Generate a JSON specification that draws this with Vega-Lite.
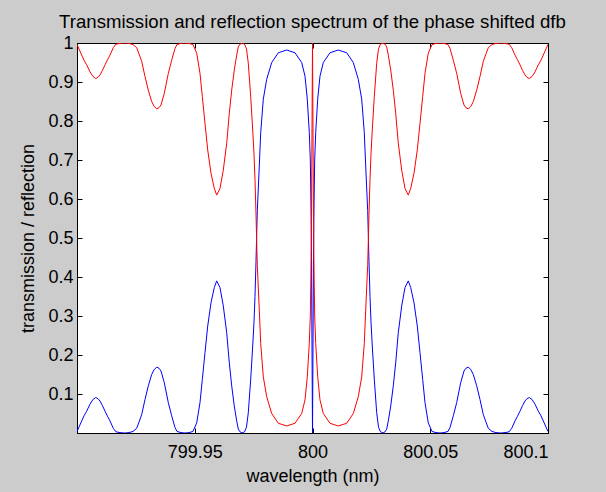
{
  "$schema": "https://vega.github.io/schema/vega-lite/v6.json",
  "width": 471,
  "height": 390,
  "autosize": "none",
  "padding": {"left": 77, "top": 43, "right": 58, "bottom": 59},
  "background": "#cccccc",
  "title": {
    "text": "Transmission and reflection spectrum of the phase shifted dfb",
    "font": "Liberation Sans",
    "fontSize": 18.6,
    "fontWeight": "normal",
    "color": "black",
    "anchor": "middle",
    "offset": 2
  },
  "config": {
    "font": "Liberation Sans",
    "view": {"fill": "white", "stroke": "black", "strokeWidth": 1},
    "axis": {
      "grid": false,
      "domainColor": "black",
      "domainWidth": 1,
      "tickColor": "black",
      "tickWidth": 1,
      "tickSize": -5,
      "labelFont": "Liberation Sans",
      "labelFontSize": 18,
      "labelColor": "black",
      "titleFont": "Liberation Sans",
      "titleFontSize": 18,
      "titleFontWeight": "normal",
      "titleColor": "black"
    }
  },
  "data": {
    "values": [
      {"wl": 799.90000, "transmission": 0.996, "reflection": 0.004},
      {"wl": 799.90106, "transmission": 0.982, "reflection": 0.018},
      {"wl": 799.90200, "transmission": 0.969, "reflection": 0.031},
      {"wl": 799.90297, "transmission": 0.956, "reflection": 0.044},
      {"wl": 799.90412, "transmission": 0.944, "reflection": 0.056},
      {"wl": 799.90552, "transmission": 0.926, "reflection": 0.074},
      {"wl": 799.90679, "transmission": 0.914, "reflection": 0.086},
      {"wl": 799.90794, "transmission": 0.909, "reflection": 0.091},
      {"wl": 799.90892, "transmission": 0.912, "reflection": 0.088},
      {"wl": 799.90977, "transmission": 0.918, "reflection": 0.082},
      {"wl": 799.91083, "transmission": 0.930, "reflection": 0.070},
      {"wl": 799.91189, "transmission": 0.944, "reflection": 0.056},
      {"wl": 799.91295, "transmission": 0.957, "reflection": 0.043},
      {"wl": 799.91401, "transmission": 0.969, "reflection": 0.031},
      {"wl": 799.91541, "transmission": 0.988, "reflection": 0.012},
      {"wl": 799.91656, "transmission": 0.997, "reflection": 0.003},
      {"wl": 799.91826, "transmission": 0.999, "reflection": 0.001},
      {"wl": 799.92017, "transmission": 1.000, "reflection": 0.000},
      {"wl": 799.92208, "transmission": 0.999, "reflection": 0.001},
      {"wl": 799.92378, "transmission": 0.996, "reflection": 0.004},
      {"wl": 799.92535, "transmission": 0.988, "reflection": 0.012},
      {"wl": 799.92633, "transmission": 0.972, "reflection": 0.028},
      {"wl": 799.92747, "transmission": 0.953, "reflection": 0.047},
      {"wl": 799.92888, "transmission": 0.914, "reflection": 0.086},
      {"wl": 799.93028, "transmission": 0.879, "reflection": 0.121},
      {"wl": 799.93172, "transmission": 0.850, "reflection": 0.150},
      {"wl": 799.93270, "transmission": 0.838, "reflection": 0.162},
      {"wl": 799.93384, "transmission": 0.831, "reflection": 0.169},
      {"wl": 799.93482, "transmission": 0.834, "reflection": 0.166},
      {"wl": 799.93567, "transmission": 0.841, "reflection": 0.159},
      {"wl": 799.93707, "transmission": 0.871, "reflection": 0.129},
      {"wl": 799.93877, "transmission": 0.922, "reflection": 0.078},
      {"wl": 799.94021, "transmission": 0.956, "reflection": 0.044},
      {"wl": 799.94161, "transmission": 0.986, "reflection": 0.014},
      {"wl": 799.94246, "transmission": 0.996, "reflection": 0.004},
      {"wl": 799.94416, "transmission": 0.999, "reflection": 0.001},
      {"wl": 799.94586, "transmission": 1.000, "reflection": 0.000},
      {"wl": 799.94756, "transmission": 0.999, "reflection": 0.001},
      {"wl": 799.94926, "transmission": 0.996, "reflection": 0.004},
      {"wl": 799.95083, "transmission": 0.974, "reflection": 0.026},
      {"wl": 799.95223, "transmission": 0.922, "reflection": 0.078},
      {"wl": 799.95321, "transmission": 0.863, "reflection": 0.137},
      {"wl": 799.95435, "transmission": 0.794, "reflection": 0.206},
      {"wl": 799.95550, "transmission": 0.726, "reflection": 0.274},
      {"wl": 799.95690, "transmission": 0.666, "reflection": 0.334},
      {"wl": 799.95830, "transmission": 0.627, "reflection": 0.373},
      {"wl": 799.95932, "transmission": 0.610, "reflection": 0.390},
      {"wl": 799.96072, "transmission": 0.627, "reflection": 0.373},
      {"wl": 799.96212, "transmission": 0.674, "reflection": 0.326},
      {"wl": 799.96357, "transmission": 0.743, "reflection": 0.257},
      {"wl": 799.96467, "transmission": 0.820, "reflection": 0.180},
      {"wl": 799.96569, "transmission": 0.879, "reflection": 0.121},
      {"wl": 799.96679, "transmission": 0.931, "reflection": 0.069},
      {"wl": 799.96781, "transmission": 0.969, "reflection": 0.031},
      {"wl": 799.96849, "transmission": 0.990, "reflection": 0.010},
      {"wl": 799.96921, "transmission": 0.997, "reflection": 0.003},
      {"wl": 799.97006, "transmission": 1.000, "reflection": 0.000},
      {"wl": 799.97113, "transmission": 0.997, "reflection": 0.003},
      {"wl": 799.97197, "transmission": 0.985, "reflection": 0.015},
      {"wl": 799.97274, "transmission": 0.948, "reflection": 0.052},
      {"wl": 799.97376, "transmission": 0.862, "reflection": 0.138},
      {"wl": 799.97461, "transmission": 0.777, "reflection": 0.223},
      {"wl": 799.97516, "transmission": 0.715, "reflection": 0.285},
      {"wl": 799.97558, "transmission": 0.650, "reflection": 0.350},
      {"wl": 799.97601, "transmission": 0.560, "reflection": 0.440},
      {"wl": 799.97656, "transmission": 0.430, "reflection": 0.570},
      {"wl": 799.97741, "transmission": 0.315, "reflection": 0.685},
      {"wl": 799.97800, "transmission": 0.230, "reflection": 0.770},
      {"wl": 799.97911, "transmission": 0.144, "reflection": 0.856},
      {"wl": 799.98055, "transmission": 0.093, "reflection": 0.907},
      {"wl": 799.98268, "transmission": 0.050, "reflection": 0.950},
      {"wl": 799.98548, "transmission": 0.025, "reflection": 0.975},
      {"wl": 799.98904, "transmission": 0.018, "reflection": 0.982},
      {"wl": 799.99257, "transmission": 0.025, "reflection": 0.975},
      {"wl": 799.99541, "transmission": 0.050, "reflection": 0.950},
      {"wl": 799.99682, "transmission": 0.085, "reflection": 0.915},
      {"wl": 799.99779, "transmission": 0.144, "reflection": 0.856},
      {"wl": 799.99864, "transmission": 0.230, "reflection": 0.770},
      {"wl": 799.99907, "transmission": 0.300, "reflection": 0.700},
      {"wl": 799.99932, "transmission": 0.400, "reflection": 0.600},
      {"wl": 799.99958, "transmission": 0.550, "reflection": 0.450},
      {"wl": 799.99979, "transmission": 0.780, "reflection": 0.220},
      {"wl": 800.00000, "transmission": 1.000, "reflection": 0.000},
      {"wl": 800.00021, "transmission": 0.780, "reflection": 0.220},
      {"wl": 800.00042, "transmission": 0.550, "reflection": 0.450},
      {"wl": 800.00068, "transmission": 0.400, "reflection": 0.600},
      {"wl": 800.00093, "transmission": 0.300, "reflection": 0.700},
      {"wl": 800.00136, "transmission": 0.230, "reflection": 0.770},
      {"wl": 800.00221, "transmission": 0.144, "reflection": 0.856},
      {"wl": 800.00318, "transmission": 0.085, "reflection": 0.915},
      {"wl": 800.00459, "transmission": 0.050, "reflection": 0.950},
      {"wl": 800.00743, "transmission": 0.025, "reflection": 0.975},
      {"wl": 800.01096, "transmission": 0.018, "reflection": 0.982},
      {"wl": 800.01452, "transmission": 0.025, "reflection": 0.975},
      {"wl": 800.01732, "transmission": 0.050, "reflection": 0.950},
      {"wl": 800.01945, "transmission": 0.093, "reflection": 0.907},
      {"wl": 800.02089, "transmission": 0.144, "reflection": 0.856},
      {"wl": 800.02200, "transmission": 0.230, "reflection": 0.770},
      {"wl": 800.02259, "transmission": 0.315, "reflection": 0.685},
      {"wl": 800.02344, "transmission": 0.430, "reflection": 0.570},
      {"wl": 800.02399, "transmission": 0.560, "reflection": 0.440},
      {"wl": 800.02442, "transmission": 0.650, "reflection": 0.350},
      {"wl": 800.02484, "transmission": 0.715, "reflection": 0.285},
      {"wl": 800.02539, "transmission": 0.777, "reflection": 0.223},
      {"wl": 800.02624, "transmission": 0.862, "reflection": 0.138},
      {"wl": 800.02726, "transmission": 0.948, "reflection": 0.052},
      {"wl": 800.02803, "transmission": 0.985, "reflection": 0.015},
      {"wl": 800.02887, "transmission": 0.997, "reflection": 0.003},
      {"wl": 800.02994, "transmission": 1.000, "reflection": 0.000},
      {"wl": 800.03079, "transmission": 0.997, "reflection": 0.003},
      {"wl": 800.03151, "transmission": 0.990, "reflection": 0.010},
      {"wl": 800.03219, "transmission": 0.969, "reflection": 0.031},
      {"wl": 800.03321, "transmission": 0.931, "reflection": 0.069},
      {"wl": 800.03431, "transmission": 0.879, "reflection": 0.121},
      {"wl": 800.03533, "transmission": 0.820, "reflection": 0.180},
      {"wl": 800.03643, "transmission": 0.743, "reflection": 0.257},
      {"wl": 800.03788, "transmission": 0.674, "reflection": 0.326},
      {"wl": 800.03928, "transmission": 0.627, "reflection": 0.373},
      {"wl": 800.04068, "transmission": 0.610, "reflection": 0.390},
      {"wl": 800.04170, "transmission": 0.627, "reflection": 0.373},
      {"wl": 800.04310, "transmission": 0.666, "reflection": 0.334},
      {"wl": 800.04450, "transmission": 0.726, "reflection": 0.274},
      {"wl": 800.04565, "transmission": 0.794, "reflection": 0.206},
      {"wl": 800.04679, "transmission": 0.863, "reflection": 0.137},
      {"wl": 800.04777, "transmission": 0.922, "reflection": 0.078},
      {"wl": 800.04917, "transmission": 0.974, "reflection": 0.026},
      {"wl": 800.05074, "transmission": 0.996, "reflection": 0.004},
      {"wl": 800.05244, "transmission": 0.999, "reflection": 0.001},
      {"wl": 800.05414, "transmission": 1.000, "reflection": 0.000},
      {"wl": 800.05584, "transmission": 0.999, "reflection": 0.001},
      {"wl": 800.05754, "transmission": 0.996, "reflection": 0.004},
      {"wl": 800.05839, "transmission": 0.986, "reflection": 0.014},
      {"wl": 800.05979, "transmission": 0.956, "reflection": 0.044},
      {"wl": 800.06123, "transmission": 0.922, "reflection": 0.078},
      {"wl": 800.06293, "transmission": 0.871, "reflection": 0.129},
      {"wl": 800.06433, "transmission": 0.841, "reflection": 0.159},
      {"wl": 800.06518, "transmission": 0.834, "reflection": 0.166},
      {"wl": 800.06616, "transmission": 0.831, "reflection": 0.169},
      {"wl": 800.06730, "transmission": 0.838, "reflection": 0.162},
      {"wl": 800.06828, "transmission": 0.850, "reflection": 0.150},
      {"wl": 800.06972, "transmission": 0.879, "reflection": 0.121},
      {"wl": 800.07112, "transmission": 0.914, "reflection": 0.086},
      {"wl": 800.07253, "transmission": 0.953, "reflection": 0.047},
      {"wl": 800.07367, "transmission": 0.972, "reflection": 0.028},
      {"wl": 800.07465, "transmission": 0.988, "reflection": 0.012},
      {"wl": 800.07622, "transmission": 0.996, "reflection": 0.004},
      {"wl": 800.07792, "transmission": 0.999, "reflection": 0.001},
      {"wl": 800.07983, "transmission": 1.000, "reflection": 0.000},
      {"wl": 800.08174, "transmission": 0.999, "reflection": 0.001},
      {"wl": 800.08344, "transmission": 0.997, "reflection": 0.003},
      {"wl": 800.08459, "transmission": 0.988, "reflection": 0.012},
      {"wl": 800.08599, "transmission": 0.969, "reflection": 0.031},
      {"wl": 800.08705, "transmission": 0.957, "reflection": 0.043},
      {"wl": 800.08811, "transmission": 0.944, "reflection": 0.056},
      {"wl": 800.08917, "transmission": 0.930, "reflection": 0.070},
      {"wl": 800.09023, "transmission": 0.918, "reflection": 0.082},
      {"wl": 800.09108, "transmission": 0.912, "reflection": 0.088},
      {"wl": 800.09206, "transmission": 0.909, "reflection": 0.091},
      {"wl": 800.09321, "transmission": 0.914, "reflection": 0.086},
      {"wl": 800.09448, "transmission": 0.926, "reflection": 0.074},
      {"wl": 800.09588, "transmission": 0.944, "reflection": 0.056},
      {"wl": 800.09703, "transmission": 0.956, "reflection": 0.044},
      {"wl": 800.09800, "transmission": 0.969, "reflection": 0.031},
      {"wl": 800.09894, "transmission": 0.982, "reflection": 0.018},
      {"wl": 800.10000, "transmission": 0.996, "reflection": 0.004}
    ]
  },
  "layer": [
    {
      "mark": {"type": "line", "color": "#0000ff", "strokeWidth": 1, "clip": true},
      "encoding": {
        "x": {
          "field": "wl",
          "type": "quantitative",
          "scale": {"domain": [799.9, 800.1], "nice": false, "zero": false},
          "axis": {
            "orient": "bottom",
            "title": "wavelength (nm)",
            "values": [799.95, 800, 800.05, 800.1],
            "format": "~g",
            "labelPadding": 15,
            "titlePadding": 6
          }
        },
        "y": {
          "field": "reflection",
          "type": "quantitative",
          "scale": {"domain": [0, 1], "nice": false, "zero": false},
          "axis": {
            "orient": "left",
            "title": "transmission / reflection",
            "values": [0.1, 0.2, 0.3, 0.4, 0.5, 0.6, 0.7, 0.8, 0.9, 1],
            "format": "~g",
            "labelPadding": 9,
            "titlePadding": 10
          }
        }
      }
    },
    {
      "mark": {"type": "line", "color": "#ff0000", "strokeWidth": 1, "clip": true},
      "encoding": {
        "x": {
          "field": "wl",
          "type": "quantitative",
          "axis": {
            "orient": "top",
            "title": null,
            "labels": false,
            "values": [799.95, 800, 800.05, 800.1]
          }
        },
        "y": {
          "field": "transmission",
          "type": "quantitative",
          "axis": {
            "orient": "right",
            "title": null,
            "labels": false,
            "values": [0.1, 0.2, 0.3, 0.4, 0.5, 0.6, 0.7, 0.8, 0.9, 1]
          }
        }
      }
    }
  ],
  "resolve": {"axis": {"x": "independent", "y": "independent"}}
}
